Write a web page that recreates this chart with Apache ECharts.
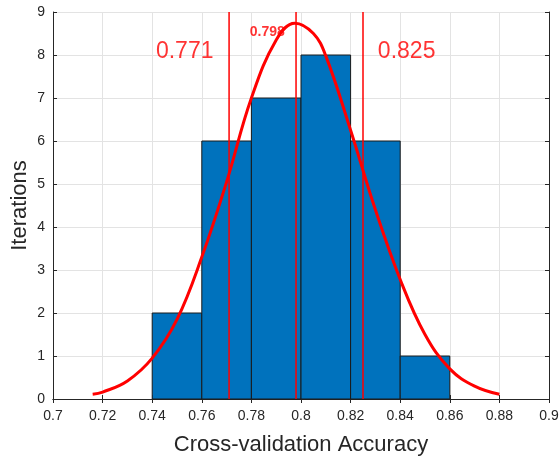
<!DOCTYPE html>
<html>
<head>
<meta charset="utf-8">
<script src="https://cdn.jsdelivr.net/npm/echarts@6/dist/echarts.min.js"></script>
<style>html,body{margin:0;padding:0;background:#fff}#c{width:560px;height:457px}</style>
</head>
<body>
<div id="c"></div>
<script>
// Histogram bins (left edge, right edge) and counts
var binLeft  = [0.74, 0.76, 0.78, 0.80, 0.82, 0.84];
var binRight = [0.76, 0.78, 0.80, 0.82, 0.84, 0.86];
var counts   = [2, 6, 7, 8, 6, 1];
// Fitted curve, points
var curveX = [0.716, 0.72, 0.73, 0.74, 0.75, 0.76, 0.77, 0.78, 0.79, 0.7975, 0.805, 0.81, 0.82, 0.83, 0.84, 0.85, 0.86, 0.87, 0.88];
var curveY = [0.11, 0.16, 0.42, 0.95, 1.85, 3.3, 5.05, 7.0, 8.35, 8.74, 8.5, 7.98, 6.25, 4.4, 2.78, 1.5, 0.7, 0.3, 0.11];
// Vertical reference lines
var vlines = [0.771, 0.798, 0.825];
// Annotation texts
var annX = [0.7531, 0.7864, 0.8426];
var annY = [8.07, 8.54, 8.07];
var annText = ['0.771', '0.798', '0.825'];
var annSize = [23, 14, 23];
var annBold = ['normal', 'bold', 'normal'];
// Tick labels
var xTicks = ['0.7','0.72','0.74','0.76','0.78','0.8','0.82','0.84','0.86','0.88','0.9'];

var chart = echarts.init(document.getElementById('c'), null, {renderer: 'canvas'});
var font = 'Liberation Sans, Arial, sans-serif';
var axisCol = '#262626';

var barData = binLeft.map(function(l, i){ return [l, binRight[i], counts[i]]; });
var curveData = curveX.map(function(x, i){ return [x, curveY[i]]; });
var vlineData = vlines.map(function(v){ return [v]; });
var annData = annX.map(function(x, i){ return {value:[x, annY[i]], label:{fontSize:annSize[i], fontWeight:annBold[i]}, name:annText[i]}; });

var option = {
  animation: false,
  grid: {left: 53, right: 11, top: 12, bottom: 58, containLabel: false, outerBoundsMode: 'none'},
  xAxis: [{
    type: 'value', min: 0.7, max: 0.9, interval: 0.02,
    name: 'Cross-validation Accuracy', nameLocation: 'middle', nameGap: 35, nameMoveOverlap: false,
    nameTextStyle: {fontFamily: font, fontSize: 22, color: axisCol},
    axisLine: {show: true, lineStyle: {color: axisCol, width: 1}},
    axisTick: {show: true, inside: true, length: 4, lineStyle: {color: axisCol}},
    axisLabel: {fontFamily: font, fontSize: 14, color: axisCol, margin: 10,
      formatter: function(v){ var i = Math.round((v-0.7)/0.02); return xTicks[i]; }},
    splitLine: {show: true, lineStyle: {color: '#e3e3e3', width: 1}}
  }, {
    type: 'value', min: 0.7, max: 0.9, interval: 0.02, position: 'top',
    axisLine: {show: true, lineStyle: {color: axisCol, width: 1}},
    axisTick: {show: true, inside: true, length: 4, lineStyle: {color: axisCol}},
    axisLabel: {show: false}, splitLine: {show: false}
  }],
  yAxis: [{
    type: 'value', min: 0, max: 9, interval: 1,
    name: 'Iterations', nameLocation: 'middle', nameGap: 22, nameMoveOverlap: false,
    nameTextStyle: {fontFamily: font, fontSize: 22, color: axisCol},
    axisLine: {show: true, lineStyle: {color: axisCol, width: 1}},
    axisTick: {show: true, inside: true, length: 4, lineStyle: {color: axisCol}},
    axisLabel: {fontFamily: font, fontSize: 14, color: axisCol, margin: 8},
    splitLine: {show: true, lineStyle: {color: '#e3e3e3', width: 1}}
  }, {
    type: 'value', min: 0, max: 9, interval: 1, position: 'right',
    axisLine: {show: true, lineStyle: {color: axisCol, width: 1}},
    axisTick: {show: true, inside: true, length: 4, lineStyle: {color: axisCol}},
    axisLabel: {show: false}, splitLine: {show: false}
  }],
  series: [{
    type: 'custom',
    xAxisIndex: 0, yAxisIndex: 0,
    data: barData,
    renderItem: function(params, api){
      var p0 = api.coord([api.value(0), api.value(2)]);
      var p1 = api.coord([api.value(1), 0]);
      return {type: 'rect', shape: {x: p0[0], y: p0[1], width: p1[0]-p0[0], height: p1[1]-p0[1]},
        style: {fill: '#0072BD', stroke: '#1a1a1a', lineWidth: 1}};
    },
    z: 2
  }, {
    type: 'custom',
    xAxisIndex: 0, yAxisIndex: 0,
    data: vlineData,
    renderItem: function(params, api){
      var p0 = api.coord([api.value(0), 0]);
      var p1 = api.coord([api.value(0), 9]);
      return {type: 'line', shape: {x1: p0[0], y1: p0[1], x2: p1[0], y2: p1[1]},
        style: {stroke: '#ff0000', lineWidth: 1.5}};
    },
    z: 4
  }, {
    type: 'line', data: curveData, smooth: 0.4, showSymbol: false, symbol: 'none',
    lineStyle: {color: '#ff0000', width: 3}, z: 5
  }, {
    type: 'scatter', data: annData, symbolSize: 0, z: 6,
    label: {show: true, position: 'inside', color: '#ff0000', fontFamily: font,
      formatter: function(p){ return p.name; }}
  }]
};
chart.setOption(option);
</script>
</body>
</html>
